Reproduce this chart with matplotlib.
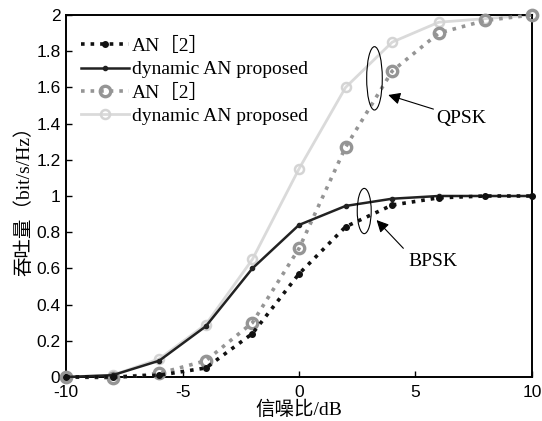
import matplotlib
matplotlib.use('Agg')
import matplotlib.pyplot as plt
from matplotlib.patches import Ellipse

snr_db = [-10, -8, -6, -4, -2, 0, 2, 4, 6, 8, 10]

# BPSK
an_bpsk = [0.0, 0.0, 0.01, 0.05, 0.24, 0.57, 0.83, 0.95, 0.99, 1.0, 1.0]
dyn_bpsk = [0.0, 0.01, 0.09, 0.28, 0.60, 0.84, 0.945, 0.985, 1.0, 1.0, 1.0]
# QPSK
an_qpsk = [0.0, -0.005, 0.02, 0.09, 0.30, 0.71, 1.27, 1.69, 1.90, 1.97, 2.0]
dyn_qpsk = [0.0, 0.01, 0.10, 0.29, 0.65, 1.15, 1.60, 1.85, 1.96, 1.98, 2.0]

labels = ['AN［2］', 'dynamic AN proposed', 'AN［2］', 'dynamic AN proposed']
xticks = [-10, -5, 0, 5, 10]
yticks = [0, 0.2, 0.4, 0.6, 0.8, 1, 1.2, 1.4, 1.6, 1.8, 2]

serif = ['Liberation Serif', 'Noto Sans CJK SC']

fig = plt.figure(figsize=(5.42, 4.21), dpi=100)
ax = fig.add_axes([0.1218, 0.1045, 0.8597, 0.8599])

ax.plot(snr_db, dyn_qpsk, '-', color='#dadada', lw=2.0, marker='o', ms=6.5,
        mfc='none', mec='#d4d4d4', mew=1.8, label=labels[3], zorder=2, clip_on=False)
ax.plot(snr_db, an_qpsk, ':', color='#959595', lw=2.6, marker='o', ms=7.5,
        mfc='none', mec='#959595', mew=2.4, label=labels[2], zorder=3, clip_on=False)
ax.plot(snr_db, dyn_bpsk, '-', color='#222222', lw=1.8, marker='.', ms=6,
        label=labels[1], zorder=4, clip_on=False)
ax.plot(snr_db, an_bpsk, ':', color='#111111', lw=2.6, marker='.', ms=8,
        label=labels[0], zorder=5, clip_on=False)

ax.set_xlim(-10, 10)
ax.set_ylim(0, 2)
ax.set_xticks(xticks)
ax.set_xticklabels([str(t) for t in xticks])
ax.set_yticks(yticks)
ax.set_yticklabels(['0', '0.2', '0.4', '0.6', '0.8', '1', '1.2', '1.4', '1.6', '1.8', '2'])
ax.tick_params(direction='in', length=4, width=1, labelsize=12.5,
               top=False, right=False)
ax.tick_params(axis='x', pad=5.5)
ax.tick_params(axis='y', pad=4)
for lab in ax.get_xticklabels() + ax.get_yticklabels():
    lab.set_family('Liberation Sans')
for sp in ax.spines.values():
    sp.set_linewidth(1.4)

ax.set_xlabel('信噪比/dB', family=serif, fontsize=14, labelpad=1)
ax.set_ylabel('吞吐量（bit/s/Hz）', family=serif, fontsize=14, labelpad=2)

# legend in original order
h, l = ax.get_legend_handles_labels()
order = [3, 2, 1, 0]
leg = ax.legend([h[i] for i in order], [l[i] for i in order], loc='upper left',
                frameon=False, prop={'family': serif, 'size': 14},
                handlelength=2.5, handletextpad=0.15, labelspacing=0.28,
                borderaxespad=0.0, bbox_to_anchor=(0.015, 0.96))

# ellipses and annotations
ax.add_patch(Ellipse((3.24, 1.65), 0.67, 0.35, fill=False, ec='black', lw=0.8, zorder=6))
ax.add_patch(Ellipse((2.8, 0.917), 0.6, 0.25, fill=False, ec='black', lw=0.8, zorder=6))

ax.annotate('', xy=(3.83, 1.558), xytext=(5.77, 1.48),
            arrowprops=dict(arrowstyle='-|>', color='black', lw=0.8,
                            mutation_scale=18, shrinkA=0, shrinkB=0))
ax.text(6.98, 1.43, 'QPSK', family=serif, fontsize=14, ha='center', va='center')

ax.annotate('', xy=(3.33, 0.867), xytext=(4.48, 0.711),
            arrowprops=dict(arrowstyle='-|>', color='black', lw=0.8,
                            mutation_scale=18, shrinkA=0, shrinkB=0))
ax.text(5.74, 0.637, 'BPSK', family=serif, fontsize=14, ha='center', va='center')

plt.savefig('out.png', dpi=100)
